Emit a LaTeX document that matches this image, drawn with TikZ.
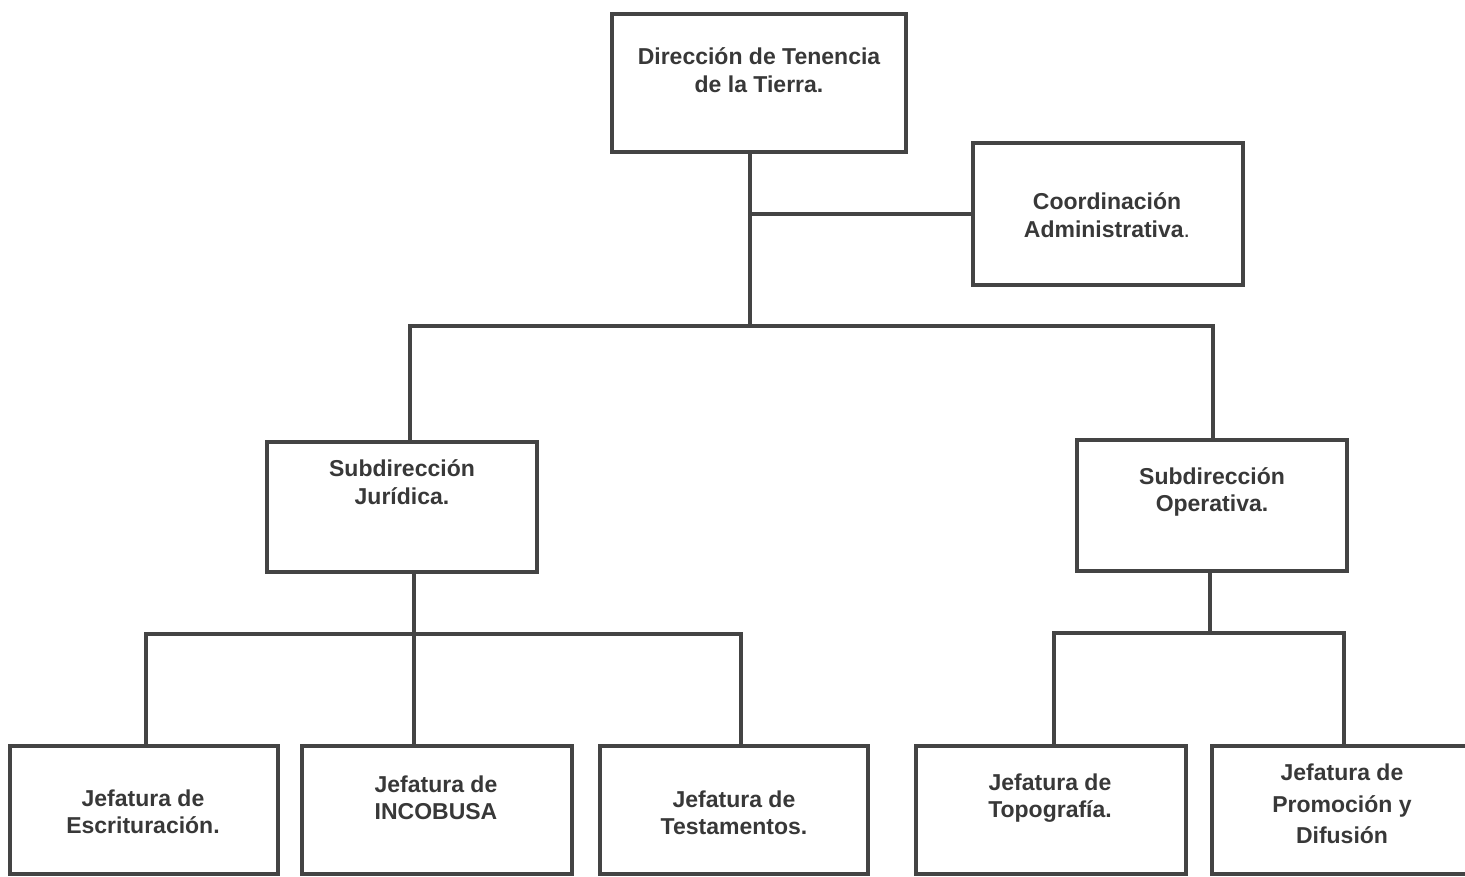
\documentclass[tikz,border=0pt]{standalone}
\usepackage{fontspec}
\setmainfont{Liberation Sans}
\definecolor{ln}{HTML}{444444}
\definecolor{tx}{HTML}{383838}
\begin{document}
\begin{tikzpicture}[x=1pt,y=-1pt,
  box/.style={draw=ln,line width=4.5pt,rectangle,inner sep=0pt},
  txt/.style={align=center,font=\fontsize{23}{27.5}\selectfont\bfseries,text=tx,inner sep=0pt},
  conn/.style={draw=ln,line width=4.5pt}]
\useasboundingbox (0,0) rectangle (1465,876);
\begin{scope}
\clip (0,0) rectangle (1465,876);
% boxes
\node[box,minimum width=294pt,minimum height=138pt] (top) at (759,83) {};
\node[box,minimum width=270pt,minimum height=142pt] (coord) at (1108,214) {};
\node[box,minimum width=270pt,minimum height=130pt] (jur) at (402,507) {};
\node[box,minimum width=270pt,minimum height=131pt] (oper) at (1212,505.5) {};
\node[box,minimum width=268pt,minimum height=128pt] (esc) at (144,810) {};
\node[box,minimum width=270pt,minimum height=128pt] (inc) at (437,810) {};
\node[box,minimum width=268pt,minimum height=128pt] (tes) at (734,810) {};
\node[box,minimum width=270pt,minimum height=128pt] (topo) at (1051,810) {};
\node[box,minimum width=262pt,minimum height=128pt] (pro) at (1343,810) {};
% texts
\node[txt] (ttop) at (759,70) {Dirección de Tenencia\\de la Tierra.};
\node[txt] (tcoord) at (1107,215) {Coordinación\\Administrativa\textmd{.}};
\node[txt] (tjur) at (402,482) {Subdirección\\Jurídica.};
\node[txt] (toper) at (1212,492) {Subdirección\\Operativa.};
\node[txt] (tesc) at (143,812) {Jefatura de\\Escrituración.};
\node[txt] (tinc) at (436,798) {Jefatura de\\INCOBUSA};
\node[txt] (ttes) at (734,813) {Jefatura de\\Testamentos.};
\node[txt] (ttopo) at (1050,798) {Jefatura de\\Topografía.};
\node[txt,font=\fontsize{23}{31.5}\selectfont\bfseries] (tpro) at (1342,804) {Jefatura de\\Promoción y\\Difusión};
% connectors
\coordinate (bus1) at (750,326);
\coordinate (bus2) at (414,634);
\coordinate (bus3) at (1210,633);
\draw[conn] ([xshift=-9pt]top.south) -- (bus1);
\draw[conn] (coord.west) -- (coord.west -| bus1);
\draw[conn] (bus1) -| ([xshift=8pt]jur.north);
\draw[conn] (bus1) -| ([xshift=1pt]oper.north);
\draw[conn] ([xshift=12pt]jur.south) -- ([xshift=-23pt]inc.north);
\draw[conn] (bus2) -| ([xshift=2pt]esc.north);
\draw[conn] (bus2) -| ([xshift=7pt]tes.north);
\draw[conn] ([xshift=-2pt]oper.south) -- (bus3);
\draw[conn] (bus3) -| ([xshift=3pt]topo.north);
\draw[conn] (bus3) -| ([xshift=1pt]pro.north);
\end{scope}
\end{tikzpicture}
\end{document}
